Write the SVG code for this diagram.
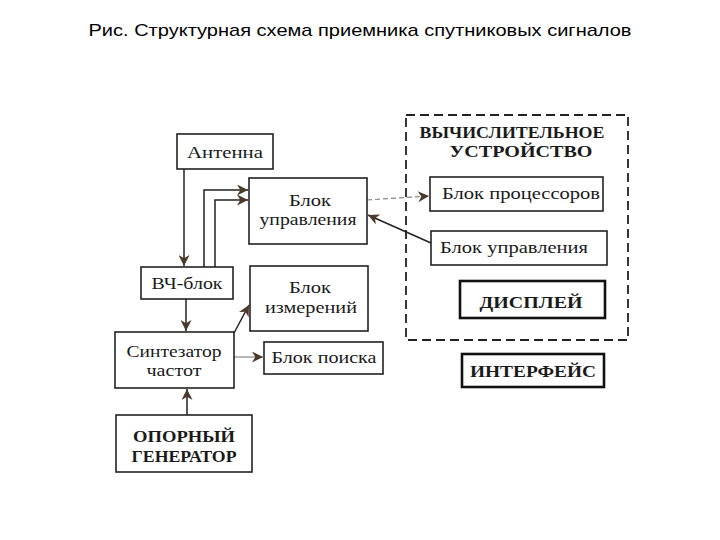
<svg xmlns="http://www.w3.org/2000/svg" width="720" height="540" viewBox="0 0 720 540">
<style>
.box{fill:#fff;stroke:#222;stroke-width:1.6}
.thick{fill:#fff;stroke:#111;stroke-width:2.6}
.t{font-family:"Liberation Serif","DejaVu Serif",serif;font-size:17px;fill:#1a1a1a;text-anchor:middle}
.b{font-weight:bold}
.ln{fill:none;stroke:#222;stroke-width:1.5}
.lg{fill:none;stroke:#888;stroke-width:1.2}
</style>
<defs>
<marker id="ahl" viewBox="0 0 10 10" refX="10" refY="5" markerWidth="13" markerHeight="11" orient="auto" markerUnits="userSpaceOnUse">
<path d="M0,0 L10,5 L0,10 L3,5 z" fill="#4a3a2a"/>
</marker>
</defs>
<rect width="720" height="540" fill="#fff"/>
<text x="360" y="36" font-family="Liberation Sans,Arial,sans-serif" font-size="17" text-anchor="middle" fill="#000" textLength="543" lengthAdjust="spacingAndGlyphs">Рис. Структурная схема приемника спутниковых сигналов</text>

<g id="connectors">
<line class="ln" x1="184" y1="169" x2="184" y2="266" marker-end="url(#ahl)"/>
<polyline class="ln" points="204,267 204,190 248,190" marker-end="url(#ahl)"/>
<polyline class="ln" points="215,267 215,200 248,200" marker-end="url(#ahl)"/>
<line class="ln" x1="186" y1="299" x2="186" y2="331" marker-end="url(#ahl)"/>
<line class="ln" x1="187" y1="415" x2="187" y2="389" marker-end="url(#ahl)"/>
<line class="ln" x1="234" y1="333" x2="249" y2="305" marker-end="url(#ahl)"/>
<line class="lg" x1="234" y1="357" x2="263" y2="357" marker-end="url(#ahl)"/>
<line class="lg" x1="367" y1="200" x2="429" y2="196" stroke-dasharray="5,3" marker-end="url(#ahl)"/>
<line class="ln" x1="431" y1="243" x2="368" y2="215" marker-end="url(#ahl)"/>
</g>

<g id="comp-device">
<rect x="406" y="115" width="222" height="225" fill="none" stroke="#222" stroke-width="1.8" stroke-dasharray="9,5"/>
<text class="t b" x="512" y="138" textLength="185" lengthAdjust="spacingAndGlyphs">ВЫЧИСЛИТЕЛЬНОЕ</text>
<text class="t b" x="521" y="157" textLength="143" lengthAdjust="spacingAndGlyphs">УСТРОЙСТВО</text>
</g>
<g id="antenna"><rect class="box" x="177" y="134" width="96" height="35"/><text class="t" x="225" y="158" textLength="76" lengthAdjust="spacingAndGlyphs">Антенна</text></g>
<g id="control-left"><rect class="box" x="249" y="178" width="118" height="66"/><text class="t" x="310" y="206" textLength="42" lengthAdjust="spacingAndGlyphs">Блок</text><text class="t" x="308" y="225" textLength="97" lengthAdjust="spacingAndGlyphs">управления</text></g>
<g id="hf"><rect class="box" x="141" y="267" width="92" height="32"/><text class="t" x="187" y="289" textLength="71" lengthAdjust="spacingAndGlyphs">ВЧ-блок</text></g>
<g id="measure"><rect class="box" x="250" y="266" width="118" height="65"/><text class="t" x="310" y="293" textLength="42" lengthAdjust="spacingAndGlyphs">Блок</text><text class="t" x="311" y="313" textLength="92" lengthAdjust="spacingAndGlyphs">измерений</text></g>
<g id="synth"><rect class="box" x="115" y="332" width="119" height="56"/><text class="t" x="174" y="357" textLength="95" lengthAdjust="spacingAndGlyphs">Синтезатор</text><text class="t" x="174" y="376" textLength="55" lengthAdjust="spacingAndGlyphs">частот</text></g>
<g id="search"><rect class="box" x="264" y="342" width="119" height="32"/><text class="t" x="324" y="363" textLength="105" lengthAdjust="spacingAndGlyphs">Блок поиска</text></g>
<g id="generator"><rect class="box" x="116" y="415" width="136" height="57"/><text class="t b" x="184" y="442" textLength="102" lengthAdjust="spacingAndGlyphs">ОПОРНЫЙ</text><text class="t b" x="184" y="462" textLength="105" lengthAdjust="spacingAndGlyphs">ГЕНЕРАТОР</text></g>
<g id="processors"><rect class="box" x="430" y="177" width="173" height="34"/><text class="t" x="521" y="199" textLength="158" lengthAdjust="spacingAndGlyphs">Блок процессоров</text></g>
<g id="control-right"><rect class="box" x="431" y="231" width="176" height="34"/><text class="t" x="514" y="253" textLength="148" lengthAdjust="spacingAndGlyphs">Блок управления</text></g>
<g id="display"><rect class="thick" x="460" y="281" width="145" height="37"/><text class="t b" x="531" y="308" font-size="18" textLength="103" lengthAdjust="spacingAndGlyphs">ДИСПЛЕЙ</text></g>
<g id="interface"><rect class="thick" x="462" y="354" width="142" height="33"/><text class="t b" x="533" y="377" textLength="126" lengthAdjust="spacingAndGlyphs">ИНТЕРФЕЙС</text></g>
</svg>
